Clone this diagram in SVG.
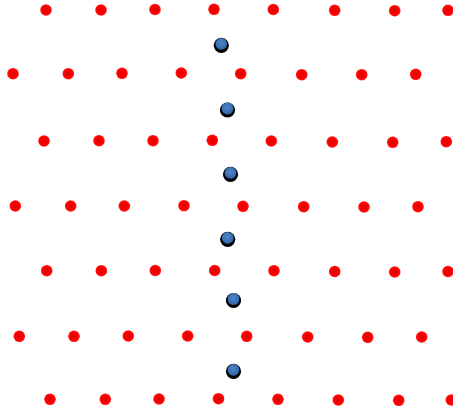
<svg xmlns="http://www.w3.org/2000/svg" width="453" height="412" viewBox="0 0 453 412">
<defs>
<radialGradient id="rg" cx="50%" cy="50%" r="50%">
<stop offset="0" stop-color="#e00000"/>
<stop offset="0.75" stop-color="#ff0000"/>
<stop offset="1" stop-color="#ff2020"/>
</radialGradient>
<radialGradient id="bg" cx="45%" cy="40%" r="60%">
<stop offset="0" stop-color="#4a86c8"/>
<stop offset="1" stop-color="#3366aa"/>
</radialGradient>
<circle id="r" r="5.8" fill="url(#rg)"/>
<g id="b">
<circle cx="0" cy="1.5" r="7.6" fill="#000"/>
<circle cx="0" cy="0" r="5.9" fill="url(#bg)"/>
</g>
</defs>
<rect width="453" height="412" fill="#fff"/>
<g id="row1">
<use href="#r" x="46" y="10"/><use href="#r" x="101" y="10"/><use href="#r" x="155" y="9.5"/><use href="#r" x="214" y="9.3"/><use href="#r" x="273.3" y="9.5"/><use href="#r" x="334.7" y="10.3"/><use href="#r" x="394.7" y="10.7"/><use href="#r" x="448" y="10.3"/>
</g>
<g id="row2">
<use href="#r" x="13" y="73.7"/><use href="#r" x="68.3" y="73.7"/><use href="#r" x="122" y="73.3"/><use href="#r" x="181.3" y="73"/><use href="#r" x="240.7" y="73.7"/><use href="#r" x="301.7" y="74.7"/><use href="#r" x="361.7" y="74.7"/><use href="#r" x="415.7" y="74.3"/>
</g>
<g id="row3">
<use href="#r" x="44" y="141"/><use href="#r" x="99" y="140.7"/><use href="#r" x="153" y="140.7"/><use href="#r" x="212.3" y="140.3"/><use href="#r" x="271.3" y="141"/><use href="#r" x="332.3" y="142"/><use href="#r" x="392.7" y="142.3"/><use href="#r" x="446.3" y="141.7"/>
</g>
<g id="row4">
<use href="#r" x="15.3" y="206"/><use href="#r" x="70.7" y="206"/><use href="#r" x="124.3" y="206"/><use href="#r" x="184" y="205.7"/><use href="#r" x="243" y="206.3"/><use href="#r" x="303.7" y="206.7"/><use href="#r" x="364" y="207"/><use href="#r" x="418" y="206.7"/>
</g>
<g id="row5">
<use href="#r" x="46.7" y="270.7"/><use href="#r" x="101.3" y="270.7"/><use href="#r" x="155.3" y="270.5"/><use href="#r" x="214.7" y="270.5"/><use href="#r" x="274" y="270.7"/><use href="#r" x="334.7" y="271.5"/><use href="#r" x="394.7" y="272"/><use href="#r" x="448" y="271.5"/>
</g>
<g id="row6">
<use href="#r" x="19.3" y="336.3"/><use href="#r" x="74" y="336.3"/><use href="#r" x="128.3" y="336"/><use href="#r" x="187.7" y="336"/><use href="#r" x="246.7" y="336.3"/><use href="#r" x="307.7" y="337"/><use href="#r" x="367.7" y="337.3"/><use href="#r" x="421.7" y="337"/>
</g>
<g id="row7">
<use href="#r" x="50" y="399.3"/><use href="#r" x="105.3" y="399.3"/><use href="#r" x="159" y="399"/><use href="#r" x="218.5" y="398.7"/><use href="#r" x="278" y="399.3"/><use href="#r" x="338.3" y="400"/><use href="#r" x="398.7" y="400.3"/><use href="#r" x="451.3" y="400"/>
</g>
<g id="blue1"><use href="#b" x="221.3" y="43.8"/></g>
<g id="blue2"><use href="#b" x="227.5" y="108.5"/></g>
<g id="blue3"><use href="#b" x="230.5" y="172.8"/></g>
<g id="blue4"><use href="#b" x="227.7" y="237.8"/></g>
<g id="blue5"><use href="#b" x="233.5" y="299"/></g>
<g id="blue6"><use href="#b" x="233.5" y="369.8"/></g>
</svg>
